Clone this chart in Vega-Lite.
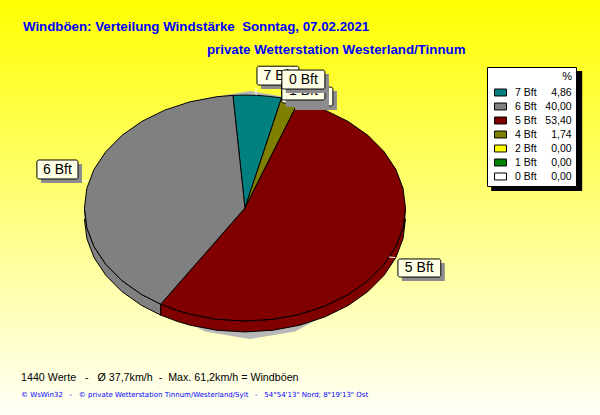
{
"$schema":"https://vega.github.io/schema/vega-lite/v6.json",
"width":600,"height":415,"padding":0,"autosize":{"type":"none"},
"background":"#FFFFF0",
"view":{"stroke":null,"fill":{"x1":0,"y1":0,"x2":0,"y2":1,"gradient":"linear","stops":[{"offset":0,"color":"#FFFF00"},{"offset":1,"color":"#FFFFF8"}]}},
"datasets":{
"werte":[
{"Bft":"7 Bft","Prozent":4.86},
{"Bft":"6 Bft","Prozent":40.0},
{"Bft":"5 Bft","Prozent":53.4},
{"Bft":"4 Bft","Prozent":1.74},
{"Bft":"2 Bft","Prozent":0},
{"Bft":"1 Bft","Prozent":0},
{"Bft":"0 Bft","Prozent":0}
],
"schatten":[
{"i":0,"u":3.1,"v":103.5},{"i":1,"u":31.2,"v":96.9},{"i":2,"u":56,"v":77.8},{"i":3,"u":74.3,"v":48.7},{"i":4,"u":84.1,"v":12.9},{"i":5,"u":84.1,"v":-25.3},{"i":6,"u":74.3,"v":-61.1},{"i":7,"u":56,"v":-90.2},{"i":8,"u":31.2,"v":-109.3},{"i":9,"u":3.1,"v":-115.9},{"i":10,"u":-25,"v":-109.3},{"i":11,"u":-49.8,"v":-90.2},{"i":12,"u":-68.1,"v":-61.1},{"i":13,"u":-77.9,"v":-25.3},{"i":14,"u":-77.9,"v":12.9},{"i":15,"u":-68.1,"v":48.7},{"i":16,"u":-49.8,"v":77.8},{"i":17,"u":-25,"v":96.9}
],
"rand":[
{"Bft":"6 Bft","i":0,"u":-100,"v":0},{"Bft":"6 Bft","i":1,"u":-98.5,"v":-17.4},{"Bft":"6 Bft","i":2,"u":-94,"v":-34.2},{"Bft":"6 Bft","i":3,"u":-86.6,"v":-50},{"Bft":"6 Bft","i":4,"u":-76.6,"v":-64.3},{"Bft":"6 Bft","i":5,"u":-64.3,"v":-76.6},{"Bft":"6 Bft","i":6,"u":-52.5,"v":-85.1},{"Bft":"6 Bft","i":7,"u":-52.5,"v":-94.8},{"Bft":"6 Bft","i":8,"u":-64.3,"v":-86.3},{"Bft":"6 Bft","i":9,"u":-76.6,"v":-74},{"Bft":"6 Bft","i":10,"u":-86.6,"v":-59.7},{"Bft":"6 Bft","i":11,"u":-94,"v":-43.9},{"Bft":"6 Bft","i":12,"u":-98.5,"v":-27.1},{"Bft":"6 Bft","i":13,"u":-100,"v":-9.7},
{"Bft":"5 Bft","i":0,"u":100,"v":0},{"Bft":"5 Bft","i":1,"u":98.5,"v":-17.4},{"Bft":"5 Bft","i":2,"u":94,"v":-34.2},{"Bft":"5 Bft","i":3,"u":86.6,"v":-50},{"Bft":"5 Bft","i":4,"u":76.6,"v":-64.3},{"Bft":"5 Bft","i":5,"u":64.3,"v":-76.6},{"Bft":"5 Bft","i":6,"u":50,"v":-86.6},{"Bft":"5 Bft","i":7,"u":34.2,"v":-94},{"Bft":"5 Bft","i":8,"u":17.4,"v":-98.5},{"Bft":"5 Bft","i":9,"u":0,"v":-100},{"Bft":"5 Bft","i":10,"u":-17.4,"v":-98.5},{"Bft":"5 Bft","i":11,"u":-34.2,"v":-94},{"Bft":"5 Bft","i":12,"u":-42.3,"v":-90.6},{"Bft":"5 Bft","i":13,"u":-52.5,"v":-85.1},{"Bft":"5 Bft","i":14,"u":-52.5,"v":-94.8},{"Bft":"5 Bft","i":15,"u":-42.3,"v":-100.3},{"Bft":"5 Bft","i":16,"u":-34.2,"v":-103.7},{"Bft":"5 Bft","i":17,"u":-17.4,"v":-108.2},{"Bft":"5 Bft","i":18,"u":0,"v":-109.7},{"Bft":"5 Bft","i":19,"u":17.4,"v":-108.2},{"Bft":"5 Bft","i":20,"u":34.2,"v":-103.7},{"Bft":"5 Bft","i":21,"u":50,"v":-96.3},{"Bft":"5 Bft","i":22,"u":64.3,"v":-86.3},{"Bft":"5 Bft","i":23,"u":76.6,"v":-74},{"Bft":"5 Bft","i":24,"u":86.6,"v":-59.7},{"Bft":"5 Bft","i":25,"u":94,"v":-43.9},{"Bft":"5 Bft","i":26,"u":98.5,"v":-27.1},{"Bft":"5 Bft","i":27,"u":100,"v":-9.7}
],
"stuecke":[
{"Bft":"7 Bft","i":0,"u":0,"v":0},{"Bft":"7 Bft","i":1,"u":-7.5,"v":99.7},{"Bft":"7 Bft","i":2,"u":0,"v":100},{"Bft":"7 Bft","i":3,"u":7.7,"v":99.7},{"Bft":"7 Bft","i":4,"u":15.3,"v":98.8},{"Bft":"7 Bft","i":5,"u":22.8,"v":97.4},{"Bft":"7 Bft","i":6,"u":0,"v":0},
{"Bft":"4 Bft","i":0,"u":0,"v":0},{"Bft":"4 Bft","i":1,"u":22.8,"v":97.4},{"Bft":"4 Bft","i":2,"u":28.1,"v":96},{"Bft":"4 Bft","i":3,"u":33.4,"v":94.3},{"Bft":"4 Bft","i":4,"u":0,"v":0},
{"Bft":"5 Bft","i":0,"u":0,"v":0},{"Bft":"5 Bft","i":1,"u":33.4,"v":94.3},{"Bft":"5 Bft","i":2,"u":50,"v":86.6},{"Bft":"5 Bft","i":3,"u":64.3,"v":76.6},{"Bft":"5 Bft","i":4,"u":76.6,"v":64.3},{"Bft":"5 Bft","i":5,"u":86.6,"v":50},{"Bft":"5 Bft","i":6,"u":94,"v":34.2},{"Bft":"5 Bft","i":7,"u":98.5,"v":17.4},{"Bft":"5 Bft","i":8,"u":100,"v":0},{"Bft":"5 Bft","i":9,"u":98.5,"v":-17.4},{"Bft":"5 Bft","i":10,"u":94,"v":-34.2},{"Bft":"5 Bft","i":11,"u":86.6,"v":-50},{"Bft":"5 Bft","i":12,"u":76.6,"v":-64.3},{"Bft":"5 Bft","i":13,"u":64.3,"v":-76.6},{"Bft":"5 Bft","i":14,"u":50,"v":-86.6},{"Bft":"5 Bft","i":15,"u":34.2,"v":-94},{"Bft":"5 Bft","i":16,"u":17.4,"v":-98.5},{"Bft":"5 Bft","i":17,"u":0,"v":-100},{"Bft":"5 Bft","i":18,"u":-17.4,"v":-98.5},{"Bft":"5 Bft","i":19,"u":-34.2,"v":-94},{"Bft":"5 Bft","i":20,"u":-42.3,"v":-90.6},{"Bft":"5 Bft","i":21,"u":-52.5,"v":-85.1},{"Bft":"5 Bft","i":22,"u":0,"v":0},
{"Bft":"6 Bft","i":0,"u":0,"v":0},{"Bft":"6 Bft","i":1,"u":-52.5,"v":-85.1},{"Bft":"6 Bft","i":2,"u":-64.3,"v":-76.6},{"Bft":"6 Bft","i":3,"u":-76.6,"v":-64.3},{"Bft":"6 Bft","i":4,"u":-86.6,"v":-50},{"Bft":"6 Bft","i":5,"u":-94,"v":-34.2},{"Bft":"6 Bft","i":6,"u":-98.5,"v":-17.4},{"Bft":"6 Bft","i":7,"u":-100,"v":0},{"Bft":"6 Bft","i":8,"u":-98.5,"v":17.4},{"Bft":"6 Bft","i":9,"u":-94,"v":34.2},{"Bft":"6 Bft","i":10,"u":-86.6,"v":50},{"Bft":"6 Bft","i":11,"u":-76.6,"v":64.3},{"Bft":"6 Bft","i":12,"u":-64.3,"v":76.6},{"Bft":"6 Bft","i":13,"u":-50,"v":86.6},{"Bft":"6 Bft","i":14,"u":-34.2,"v":94},{"Bft":"6 Bft","i":15,"u":-17.4,"v":98.5},{"Bft":"6 Bft","i":16,"u":-7.5,"v":99.7},{"Bft":"6 Bft","i":17,"u":0,"v":0}
],
"striche":[
{"u":6.9,"u2":6.9,"v":106.2,"v2":100},
{"u":-101.6,"u2":-97.9,"v":23.9,"v2":23.9},
{"u":89.7,"u2":93.5,"v":-43.4,"v2":-43.8}
],
"marken":[
{"Bft":"7 Bft","u":7.5,"u2":33.6,"v":125.5,"v2":108.8,"su":10,"su2":36.1,"sv":122,"sv2":105.3,"tu":20.5,"tv":117},
{"Bft":"6 Bft","u":-129.6,"u2":-104,"v":42.5,"v2":25.7,"su":-127.1,"su2":-101.5,"sv":39,"sv2":22.2,"tu":-116.8,"tv":34},
{"Bft":"5 Bft","u":95.3,"u2":122,"v":-45.1,"v2":-61.1,"su":97.8,"su2":124.5,"sv":-48.6,"sv2":-64.6,"tu":108.6,"tv":-53},
{"Bft":"4 Bft","u":28.7,"u2":54.8,"v":107,"v2":90.3,"su":31.2,"su2":57.3,"sv":103.5,"sv2":86.8,"tu":41.7,"tv":98.6},
{"Bft":"2 Bft","u":23,"u2":49.8,"v":109.7,"v2":92.9,"su":25.5,"su2":52.3,"sv":106.2,"sv2":89.4,"tu":36.4,"tv":101},
{"Bft":"1 Bft","u":23,"u2":49.8,"v":112.4,"v2":95.6,"su":25.5,"su2":52.3,"sv":108.9,"sv2":92.1,"tu":36.4,"tv":104},
{"Bft":"0 Bft","u":23,"u2":49.8,"v":122.1,"v2":105.3,"su":25.5,"su2":52.3,"sv":118.6,"sv2":101.8,"tu":36.4,"tv":113.7}
],
"titel":[
{"Text":"Windböen: Verteilung Windstärke\u00a0\u00a0Sonntag, 07.02.2021","u":-138.3,"v":156.6},
{"Text":"private Wetterstation Westerland/Tinnum","u":-23.7,"v":136.3}
],
"fuss":[{"Text":"1440 Werte\u00a0\u00a0\u00a0-\u00a0\u00a0\u00a0Ø 37,7km/h\u00a0\u00a0-\u00a0\u00a0Max. 61,2km/h = Windböen","u":-139.5,"v":-153}],
"fuss2":[{"Text":"© WsWin32\u00a0\u00a0\u00a0-\u00a0\u00a0\u00a0© private Wetterstation Tinnum/Westerland/Sylt\u00a0\u00a0\u00a0-\u00a0\u00a0\u00a054°54'13\" Nord; 8°19'13\" Ost","u":-139.5,"v":-167}],
"kasten":[{"u":153.4,"u2":210.1,"v":121.3,"v2":15.1}]
},
"encoding":{
"x":{"field":"u","type":"quantitative","scale":{"domain":[-152.6,221.2]},"axis":null},
"y":{"field":"v","type":"quantitative","scale":{"domain":[-183.2,184.1]},"axis":null}
},
"layer":[
{"data":{"name":"werte"},"mark":{"type":"point","filled":true,"opacity":1,"size":1,"stroke":"#000000"},"encoding":{"x":{"datum":0,"type":"quantitative"},"y":{"datum":0,"type":"quantitative"},"fill":{"field":"Bft","type":"nominal","scale":{"domain":["7 Bft","6 Bft","5 Bft","4 Bft","2 Bft","1 Bft","0 Bft"],"range":["#008080","#808080","#800000","#808000","#FFFF00","#008000","#FFFFFF"]},"legend":{"orient":"none","legendX":487,"legendY":67,"title":"%\u00a0\u00a0\u00a0","titleAnchor":"end","titleFont":"Liberation Sans","titleFontSize":11,"titleFontWeight":"normal","titleColor":"#000000","titlePadding":4,"labelFont":"Liberation Sans","labelFontSize":10.5,"labelColor":"#000000","labelOffset":8,"labelExpr":"{'7 Bft':'7 Bft\u00a0\u00a0\u00a0\u00a0\u00a04,86','6 Bft':'6 Bft\u00a0\u00a0\u00a040,00','5 Bft':'5 Bft\u00a0\u00a0\u00a053,40','4 Bft':'4 Bft\u00a0\u00a0\u00a0\u00a0\u00a01,74','2 Bft':'2 Bft\u00a0\u00a0\u00a0\u00a0\u00a00,00','1 Bft':'1 Bft\u00a0\u00a0\u00a0\u00a0\u00a00,00','0 Bft':'0 Bft\u00a0\u00a0\u00a0\u00a0\u00a00,00'}[datum.label]","fillColor":"#FFFFFF","strokeColor":"#000000","padding":4,"symbolOffset":3,"symbolOpacity":1,"symbolType":"M-1,-0.58H1V0.58H-1Z","symbolSize":144,"symbolStrokeColor":"#000000","symbolStrokeWidth":1,"rowPadding":2}}}},
{"data":{"name":"kasten"},"mark":{"type":"rect","fill":"#000000"},"encoding":{"x2":{"field":"u2"},"y2":{"field":"v2"}}},
{"data":{"name":"schatten"},"mark":{"type":"line","filled":true,"fill":"#B8B8B8","stroke":null},"encoding":{"order":{"field":"i"}}},
{"data":{"name":"rand"},"mark":{"type":"line","filled":true,"stroke":"#000000","strokeWidth":1},"encoding":{"order":{"field":"i"},"detail":{"field":"Bft"},"fill":{"field":"Bft","type":"nominal"}}},
{"data":{"name":"stuecke"},"mark":{"type":"line","filled":true,"stroke":"#000000","strokeWidth":1},"encoding":{"order":{"field":"i"},"detail":{"field":"Bft"},"fill":{"field":"Bft","type":"nominal"}}},
{"data":{"name":"striche"},"mark":{"type":"rule","stroke":"#FFFFFF","strokeWidth":1},"encoding":{"x2":{"field":"u2"},"y2":{"field":"v2"}}},
{"data":{"name":"marken"},"transform":[{"filter":"indexof(['7 Bft','6 Bft','5 Bft'],datum.Bft)>=0"}],"layer":[
{"mark":{"type":"rect","fill":"#8C8C8C"},"encoding":{"x":{"field":"su","type":"quantitative"},"y":{"field":"sv","type":"quantitative"},"x2":{"field":"su2"},"y2":{"field":"sv2"}}},
{"mark":{"type":"rect","fill":"#FFFFE6","stroke":"#000000","strokeWidth":1,"cornerRadius":2},"encoding":{"x2":{"field":"u2"},"y2":{"field":"v2"}}},
{"mark":{"type":"text","font":"Liberation Sans","fontSize":14,"fill":"#000000"},"encoding":{"x":{"field":"tu","type":"quantitative"},"y":{"field":"tv","type":"quantitative"},"text":{"field":"Bft"}}}
]},
{"data":{"name":"marken"},"transform":[{"filter":"datum.Bft=='4 Bft'"}],"layer":[
{"mark":{"type":"rect","fill":"#8C8C8C"},"encoding":{"x":{"field":"su","type":"quantitative"},"y":{"field":"sv","type":"quantitative"},"x2":{"field":"su2"},"y2":{"field":"sv2"}}},
{"mark":{"type":"rect","fill":"#FFFFE6","stroke":"#000000","strokeWidth":1,"cornerRadius":2},"encoding":{"x2":{"field":"u2"},"y2":{"field":"v2"}}},
{"mark":{"type":"text","font":"Liberation Sans","fontSize":14,"fill":"#000000"},"encoding":{"x":{"field":"tu","type":"quantitative"},"y":{"field":"tv","type":"quantitative"},"text":{"field":"Bft"}}}
]},
{"data":{"name":"marken"},"transform":[{"filter":"datum.Bft=='2 Bft'"}],"layer":[
{"mark":{"type":"rect","fill":"#8C8C8C"},"encoding":{"x":{"field":"su","type":"quantitative"},"y":{"field":"sv","type":"quantitative"},"x2":{"field":"su2"},"y2":{"field":"sv2"}}},
{"mark":{"type":"rect","fill":"#FFFFE6","stroke":"#000000","strokeWidth":1,"cornerRadius":2},"encoding":{"x2":{"field":"u2"},"y2":{"field":"v2"}}},
{"mark":{"type":"text","font":"Liberation Sans","fontSize":14,"fill":"#000000"},"encoding":{"x":{"field":"tu","type":"quantitative"},"y":{"field":"tv","type":"quantitative"},"text":{"field":"Bft"}}}
]},
{"data":{"name":"marken"},"transform":[{"filter":"datum.Bft=='1 Bft'"}],"layer":[
{"mark":{"type":"rect","fill":"#8C8C8C"},"encoding":{"x":{"field":"su","type":"quantitative"},"y":{"field":"sv","type":"quantitative"},"x2":{"field":"su2"},"y2":{"field":"sv2"}}},
{"mark":{"type":"rect","fill":"#FFFFE6","stroke":"#000000","strokeWidth":1,"cornerRadius":2},"encoding":{"x2":{"field":"u2"},"y2":{"field":"v2"}}},
{"mark":{"type":"text","font":"Liberation Sans","fontSize":14,"fill":"#000000"},"encoding":{"x":{"field":"tu","type":"quantitative"},"y":{"field":"tv","type":"quantitative"},"text":{"field":"Bft"}}}
]},
{"data":{"name":"marken"},"transform":[{"filter":"datum.Bft=='0 Bft'"}],"layer":[
{"mark":{"type":"rect","fill":"#8C8C8C"},"encoding":{"x":{"field":"su","type":"quantitative"},"y":{"field":"sv","type":"quantitative"},"x2":{"field":"su2"},"y2":{"field":"sv2"}}},
{"mark":{"type":"rect","fill":"#FFFFE6","stroke":"#000000","strokeWidth":1,"cornerRadius":2},"encoding":{"x2":{"field":"u2"},"y2":{"field":"v2"}}},
{"mark":{"type":"text","font":"Liberation Sans","fontSize":14,"fill":"#000000"},"encoding":{"x":{"field":"tu","type":"quantitative"},"y":{"field":"tv","type":"quantitative"},"text":{"field":"Bft"}}}
]},
{"data":{"name":"titel"},"mark":{"type":"text","align":"left","baseline":"alphabetic","font":"Liberation Sans","fontSize":13.3,"fontWeight":"bold","fill":"#0000FF"},"encoding":{"text":{"field":"Text"}}},
{"data":{"name":"fuss"},"mark":{"type":"text","align":"left","baseline":"alphabetic","font":"Liberation Sans","fontSize":10.7,"fill":"#000000"},"encoding":{"text":{"field":"Text"}}},
{"data":{"name":"fuss2"},"mark":{"type":"text","align":"left","baseline":"alphabetic","font":"DejaVu Sans","fontSize":7,"fill":"#0000FF"},"encoding":{"text":{"field":"Text"}}}
]
}
